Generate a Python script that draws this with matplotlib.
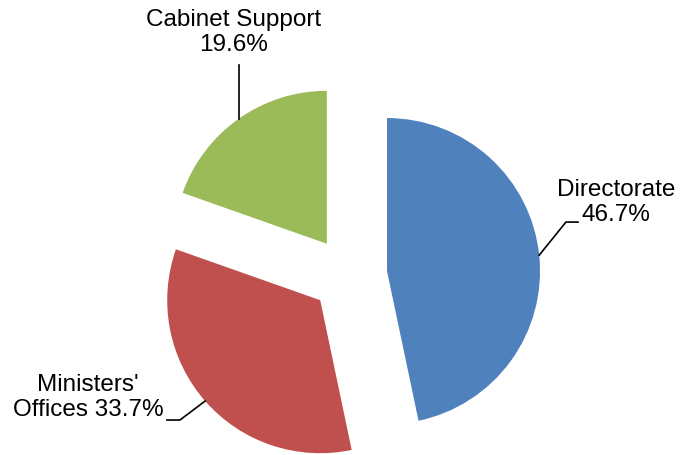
import matplotlib.pyplot as plt
import numpy as np

plt.rcParams['font.family'] = ['Liberation Sans', 'DejaVu Sans']

# data
labels = ["Directorate", "Ministers'\nOffices", "Cabinet Support"]
shares = [46.7, 33.7, 19.6]
colors = ["#4F81BD", "#C0504D", "#9BBB59"]

fig = plt.figure(figsize=(6.9, 4.55), dpi=100)
ax = fig.add_axes([0, 0, 1, 1])

explode = [0.25] * len(shares)
wedges, _ = ax.pie(shares, colors=colors, explode=explode, startangle=90,
                   counterclock=False, radius=1.0)

ax.set_xlim(-2.281, 2.229)
ax.set_ylim(-1.176, 1.797)
ax.set_aspect('equal')
ax.axis('off')

# label layout: text position and leader line points after the rim anchor
text_pos = [(1.745, 0.475), (-1.706, -0.80), (-0.752, 1.585)]
leader = [[(1.418, 0.346), (1.497, 0.346)],
          [(-1.105, -0.948), (-1.19, -0.948)],
          [(None, 1.373)]]
seps = ["\n", " ", "\n"]
for k, w in enumerate(wedges):
    mid = np.deg2rad((w.theta1 + w.theta2) / 2)
    cx, cy = w.center
    anchor = (cx + w.r * np.cos(mid), cy + w.r * np.sin(mid))
    pts = [anchor] + [(anchor[0] if px is None else px, py) for px, py in leader[k]]
    ax.plot([p[0] for p in pts], [p[1] for p in pts], color="black", lw=1.2)
    txt = "{}{}{:.1f}%".format(labels[k], seps[k], shares[k])
    ax.text(text_pos[k][0], text_pos[k][1], txt,
            ha='center', va='center', fontsize=17.5, linespacing=1.15)

fig.savefig("out.png", dpi=100)
